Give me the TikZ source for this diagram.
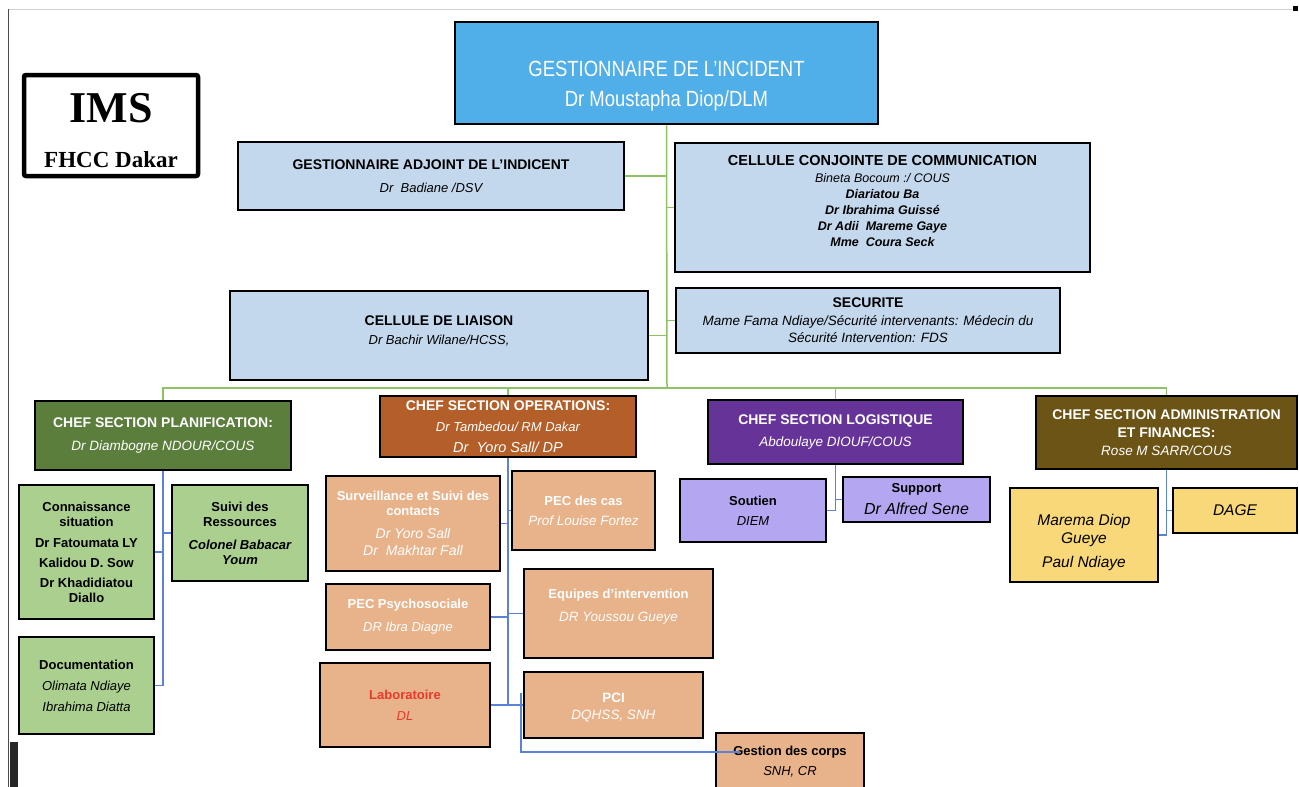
\documentclass[tikz,border=0pt]{standalone}
\usepackage{fontspec}
\setmainfont{Liberation Sans}
\newfontfamily\imsfont{Liberation Serif}
\newfontfamily\condfont[FakeStretch=0.84]{Liberation Sans}
\definecolor{topblue}{HTML}{50AEE8}
\definecolor{lightblue}{HTML}{C4D8ED}
\definecolor{planifgreen}{HTML}{5B7E3C}
\definecolor{opsbrown}{HTML}{B45F2A}
\definecolor{logpurple}{HTML}{663399}
\definecolor{adminbrown}{HTML}{6C5417}
\definecolor{lightgreen}{HTML}{AACF8E}
\definecolor{peach}{HTML}{E8B28A}
\definecolor{lavender}{HTML}{B4A6F1}
\definecolor{yellowbox}{HTML}{F8D878}
\definecolor{labred}{HTML}{E53B2C}
\definecolor{linegreen}{HTML}{8EC265}
\definecolor{lineblue}{HTML}{5A82D6}
\newcommand\fs[2]{\fontsize{#1}{#2}\selectfont}
\tikzset{
  box/.style={draw=black, line width=2.8pt, rectangle, inner sep=0pt},
  txt/.style={align=center, inner sep=0pt},
  gline/.style={draw=linegreen, line width=1.5pt},
  bline/.style={draw=lineblue, line width=1.4pt},
}
\newcommand\mybox[9]{%
  \node[box, fill=#6, minimum width={(#4)-(#2)}, minimum height={(#5)-(#3)}] (#1) at ({((#2)+(#4))/2},{((#3)+(#5))/2}) {};
  \node[txt, #8] (#1-t) at ({((#2)+(#4))/2},{((#3)+(#5))/2+(#7)}) {#9};
}
\begin{document}
\begin{tikzpicture}[x=1pt,y=-1pt]
\useasboundingbox (0,0) rectangle (1299,787);
% page decorations
\draw[color=gray!35, line width=1pt] (8,9) -- (1292,9);
\draw[color=black!70, line width=1pt] (8,9) -- (8,787);
\fill[black] (1293,6) rectangle (1298,11);
\fill[black!85] (10,742) rectangle (18,787);

% IMS logo box
\node[draw=black, line width=4.5pt, rounded corners=2pt, minimum width=174pt, minimum height=101pt, inner sep=0pt] (ims) at (111,125.5) {};
\node[txt, font=\imsfont\bfseries\fs{44}{44}] (imst1) at (111,108) {IMS};
\node[txt, font=\imsfont\bfseries\fs{23}{23}] (imst2) at (111,160) {FHCC Dakar};

% top level
\mybox{top}{455}{22}{878}{124}{topblue}{13}{text=white,font=\condfont\fs{22}{30}}{GESTIONNAIRE DE L’INCIDENT\\Dr Moustapha Diop/DLM}
\mybox{ga}{238}{142}{624}{210}{lightblue}{0}{font=\fs{14}{23}}{{\bfseries GESTIONNAIRE ADJOINT DE L’INDICENT}\\{\itshape\fs{13}{23}Dr\ \ Badiane /DSV}}
\mybox{ccc}{675}{143}{1090}{272}{lightblue}{-7}{font=\fs{12.5}{16}}{{\fs{14.5}{16}\bfseries CELLULE CONJOINTE DE COMMUNICATION}\\[1pt]{\itshape Bineta Bocoum :/ COUS}\\{\bfseries\itshape Diariatou Ba}\\{\bfseries\itshape Dr Ibrahima Guissé}\\{\bfseries\itshape Dr Adii\ \ Mareme Gaye}\\{\bfseries\itshape Mme\ \ Coura Seck}}
\mybox{liaison}{230}{291}{648}{380}{lightblue}{-5}{font=\fs{13}{19}}{{\fs{14}{19}\bfseries CELLULE DE LIAISON}\\{\itshape Dr Bachir Wilane/HCSS,}}
\mybox{secu}{676}{288}{1060}{353}{lightblue}{0}{font=\fs{13.5}{17.5}}{{\fs{14}{17.5}\bfseries SECURITE}\\{\itshape Mame Fama Ndiaye/Sécurité intervenants: Médecin du}\\{\itshape Sécurité Intervention: FDS}}

% sections
\mybox{planif}{35}{401}{291}{470}{planifgreen}{0}{text=white,font=\fs{13.5}{23}}{{\fs{14}{23}\bfseries CHEF SECTION PLANIFICATION:}\\{\itshape Dr Diambogne NDOUR/COUS}}
\mybox{ops}{380}{396}{636}{457}{opsbrown}{0}{text=white,font=\fs{13}{21}}{{\fs{14}{21}\bfseries CHEF SECTION OPERATIONS:}\\{\itshape Dr Tambedou/ RM Dakar}\\{\itshape\fs{14.5}{21}Dr\ \ Yoro Sall/ DP}}
\mybox{log}{708}{400}{963}{464}{logpurple}{0}{text=white,font=\fs{13.5}{22}}{{\fs{14}{22}\bfseries CHEF SECTION LOGISTIQUE}\\{\itshape Abdoulaye DIOUF/COUS}}
\mybox{admin}{1036}{396}{1297}{469}{adminbrown}{0}{text=white,font=\fs{13.5}{18}}{{\fs{14}{18}\bfseries CHEF SECTION ADMINISTRATION}\\{\fs{14}{18}\bfseries ET FINANCES:}\\{\itshape Rose M SARR/COUS}}

% planification children
\mybox{conn}{19}{485}{154}{619}{lightgreen}{0}{font=\bfseries\fs{13}{15}}{Connaissance\\situation\\[6pt]Dr Fatoumata LY\\[5pt]Kalidou D. Sow\\[5pt]Dr Khadidiatou\\Diallo}
\mybox{suivi}{172}{485}{308}{581}{lightgreen}{0}{font=\bfseries\fs{13}{15}}{Suivi des\\Ressources\\[8pt]{\itshape Colonel Babacar}\\{\itshape Youm}}
\mybox{doc}{19}{637}{154}{734}{lightgreen}{0}{font=\fs{13}{21}}{{\bfseries Documentation}\\{\itshape Olimata Ndiaye}\\{\itshape Ibrahima Diatta}}

% operations children
\mybox{surv}{326}{476}{500}{571}{peach}{0}{text=white,font=\fs{13}{15}}{{\bfseries Surveillance et Suivi des}\\{\bfseries contacts}\\[8pt]{\itshape\fs{14}{15}Dr Yoro Sall}\\[2pt]{\itshape\fs{14}{15}Dr\ \ Makhtar Fall}}
\mybox{pec}{512}{471}{655}{550}{peach}{0}{text=white,font=\fs{13.5}{20}}{{\bfseries\fs{13}{20}PEC des cas}\\{\itshape Prof Louise Fortez}}
\mybox{equipes}{524}{569}{713}{658}{peach}{-7}{text=white,font=\fs{13.5}{23}}{{\bfseries\fs{13}{23}Equipes d’intervention}\\{\itshape DR Youssou Gueye}}
\mybox{psycho}{326}{584}{490}{650}{peach}{0}{text=white,font=\fs{13}{23}}{{\bfseries PEC Psychosociale}\\{\itshape DR Ibra Diagne}}
\mybox{lab}{320}{663}{490}{747}{peach}{0}{text=labred,font=\fs{13}{21}}{{\bfseries Laboratoire}\\{\itshape DL}}
\mybox{pci}{524}{672}{703}{738}{peach}{3}{text=white,font=\fs{13.5}{17}}{{\bfseries PCI}\\{\itshape DQHSS, SNH}}
\mybox{gestion}{716}{733}{864}{800}{peach}{-4.5}{font=\fs{13}{20}}{{\bfseries Gestion des corps}\\{\itshape SNH, CR}}

% logistics children
\mybox{soutien}{680}{479}{826}{542}{lavender}{0}{font=\fs{13}{20}}{{\bfseries Soutien}\\{\itshape DIEM}}
\mybox{support}{843}{477}{990}{522}{lavender}{0}{font=\fs{13}{22}}{{\bfseries Support}\\{\itshape\fs{16}{22}Dr Alfred Sene}}

% admin children
\mybox{marema}{1010}{488}{1158}{582}{yellowbox}{7}{font=\itshape\fs{15.5}{18}}{Marema Diop\\Gueye\\[6pt]Paul Ndiaye}
\mybox{dage}{1173}{488}{1297}{533}{yellowbox}{0}{font=\itshape\fs{15.5}{18}}{DAGE}

% green connectors
\coordinate (busc) at (667,388);
\draw[gline] (top.south) -- (busc);
\draw[gline] (ga.east) -- (ga.east -| busc);
\draw[gline] (ccc.west) -- (ccc.west -| busc);
\draw[gline] (liaison.east) -- (liaison.east -| busc);
\draw[gline] (secu.west) -- (secu.west -| busc);
\draw[gline] (planif.north) -- (planif.north |- busc) -- (admin.north |- busc) -- (admin.north);
\draw[gline] (ops.north) -- (ops.north |- busc);
\draw[gline] (log.north) -- (log.north |- busc);

% blue connectors
\draw[bline] (planif.south) -- (planif.south |- doc.east) -- (doc.east);
\draw[bline] (conn.east) -- (conn.east -| planif.south);
\draw[bline] (suivi.west) -- (suivi.west -| planif.south);
\draw[bline] (ops.south) -- (ops.south |- lab.east);
\draw[bline] (lab.east) -- (pci.west);
\draw[bline] (surv.east) -- (surv.east -| ops.south);
\draw[bline] (pec.west) -- (pec.west -| ops.south);
\draw[bline] (equipes.west) -- (equipes.west -| ops.south);
\draw[bline] (psycho.east) -- (psycho.east -| ops.south);
\coordinate (gj) at (521,693);
\coordinate (gend) at (740,752);
\draw[bline] (gj) -- (gj |- gend) -- (gend);
\draw[bline] (log.south) -- (log.south |- soutien.east) -- (soutien.east);
\draw[bline] (support.west) -- (support.west -| log.south);
\draw[bline] (admin.south) -- (admin.south |- marema.east) -- (marema.east);
\draw[bline] (dage.west) -- (dage.west -| admin.south);
\end{tikzpicture}
\end{document}
